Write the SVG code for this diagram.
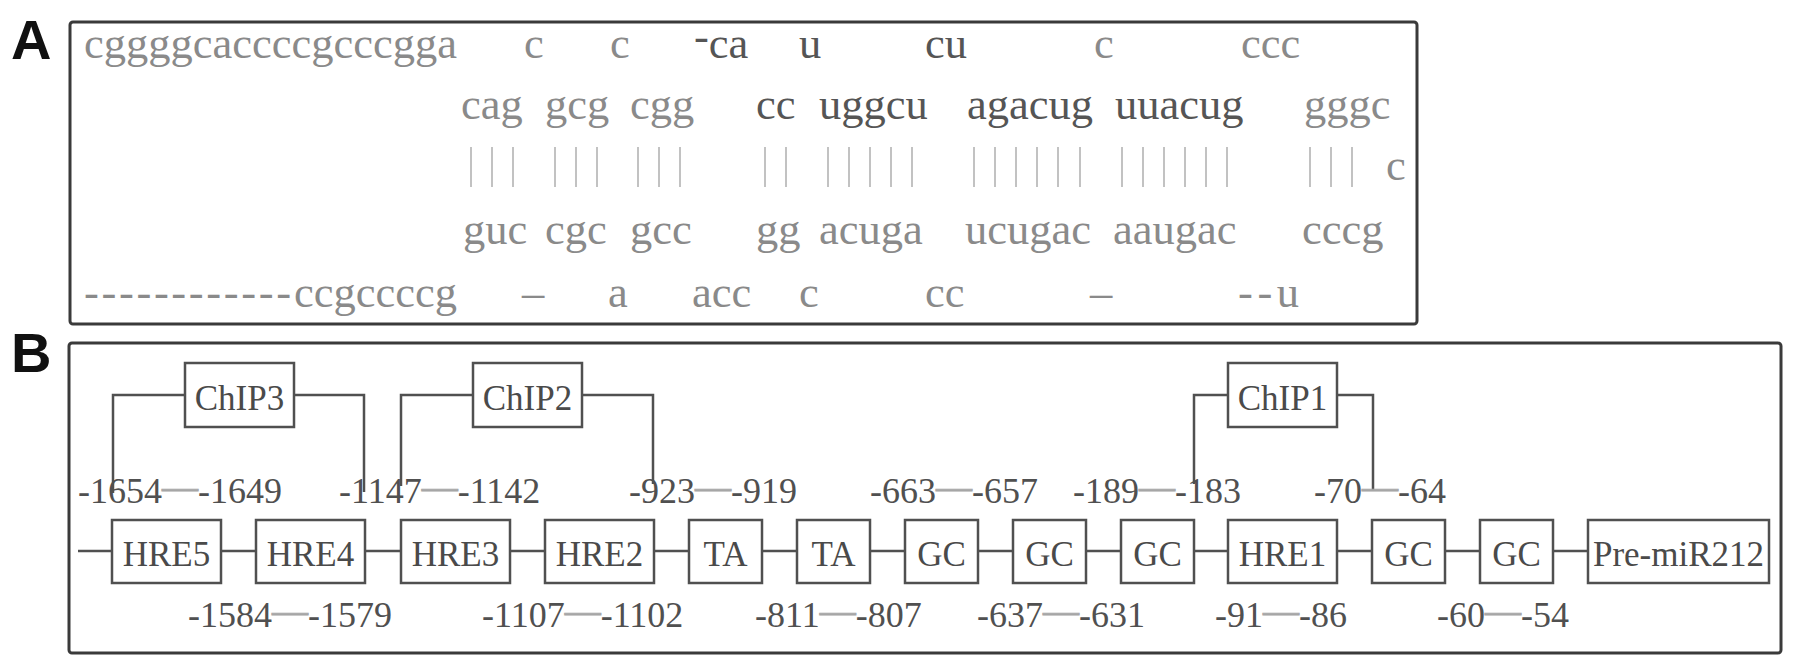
<svg xmlns="http://www.w3.org/2000/svg" width="1795" height="672" viewBox="0 0 1795 672">
<style>
.lbl{font-family:"Liberation Sans",Arial,sans-serif;font-weight:bold;font-size:56px;fill:#111}
.panel{fill:none;stroke:#3a3a3a;stroke-width:3}
.seq{font-family:"Liberation Serif","Times New Roman",serif;font-size:44.5px;fill:#8a8a8a}
.dk{fill:#555}
.bar{stroke:#c2c2c2;stroke-width:2}
.box rect{fill:#fff;stroke:#505050;stroke-width:2.5}
.box text{font-family:"Liberation Serif","Times New Roman",serif;font-size:35px;fill:#4a4a4a;text-anchor:middle}
.pos{font-family:"Liberation Serif","Times New Roman",serif;font-size:36px;fill:#505050}
.em{fill:#a6a6a6;stroke:#a6a6a6;stroke-width:0.8}
.conn{fill:none;stroke:#505050;stroke-width:2.5}
</style>
<rect width="1795" height="672" fill="#fff"/>

<!-- Panel A -->
<text class="lbl" x="11" y="59">A</text>
<rect class="panel" x="70" y="22" width="1347" height="302" rx="3"/>
<g id="seqA">
  <g id="row1">
    <text class="seq" x="84" y="58">cggggcaccccgcccgga</text>
    <text class="seq" x="524" y="58">c</text>
    <text class="seq" x="610" y="58">c</text>
    <text class="seq dk" x="694" y="58"><tspan dy="-7">-</tspan><tspan dy="7">ca</tspan></text>
    <text class="seq dk" x="799" y="58">u</text>
    <text class="seq dk" x="925" y="58">cu</text>
    <text class="seq" x="1094" y="58">c</text>
    <text class="seq" x="1241" y="58">ccc</text>
  </g>
  <g id="row2">
    <text class="seq" x="461" y="119">cag</text>
    <text class="seq" x="545" y="119">gcg</text>
    <text class="seq" x="630" y="119">cgg</text>
    <text class="seq dk" x="756" y="119">cc</text>
    <text class="seq dk" x="819" y="119">uggcu</text>
    <text class="seq dk" x="967" y="119">agacug</text>
    <text class="seq dk" x="1115" y="119">uuacug</text>
    <text class="seq" x="1304" y="119">gggc</text>
  </g>
  <g id="bars">
    <path class="bar" d="M471 147V187M492 147V187M513 147V187M555 147V187M576 147V187M597 147V187M638 147V187M659 147V187M680 147V187M765 147V187M786 147V187M828 147V187M849 147V187M870 147V187M891 147V187M912 147V187M974 147V187M995 147V187M1016 147V187M1037 147V187M1058 147V187M1080 147V187M1122 147V187M1143 147V187M1164 147V187M1185 147V187M1206 147V187M1227 147V187M1310 147V187M1331 147V187M1352 147V187"/>
    <text class="seq" x="1386" y="180">c</text>
  </g>
  <g id="row4">
    <text class="seq" x="463" y="244">guc</text>
    <text class="seq" x="545" y="244">cgc</text>
    <text class="seq" x="630" y="244">gcc</text>
    <text class="seq" x="756" y="244">gg</text>
    <text class="seq" x="819" y="244">acuga</text>
    <text class="seq" x="965" y="244">ucugac</text>
    <text class="seq" x="1113" y="244">aaugac</text>
    <text class="seq" x="1302" y="244">cccg</text>
  </g>
  <g id="row5">
    <text class="seq" x="84" y="307" textLength="207" lengthAdjust="spacing">------------</text>
    <text class="seq" x="294" y="307">ccgccccg</text>
    <text class="seq" x="522" y="307">–</text>
    <text class="seq" x="608" y="307">a</text>
    <text class="seq" x="692" y="307">acc</text>
    <text class="seq" x="799" y="307">c</text>
    <text class="seq" x="925" y="307">cc</text>
    <text class="seq" x="1090" y="307">–</text>
    <text class="seq" x="1238" y="307" textLength="61" lengthAdjust="spacing">--u</text>
  </g>
</g>

<!-- Panel B -->
<text class="lbl" x="11" y="372">B</text>
<rect class="panel" x="69" y="343" width="1712" height="310" rx="3"/>

<g id="connectors">
  <path class="conn" d="M78 551H112M221 551H256M365 551H401M510 551H545M654 551H689M762 551H797M870 551H905M978 551H1013M1086 551H1121M1194 551H1228M1337 551H1372M1445 551H1480M1553 551H1588"/>
  <path class="conn" d="M113 493V395H185M294 395H364V492"/>
  <path class="conn" d="M401 486V395H473M582 395H653V484"/>
  <path class="conn" d="M1194 484V395H1228M1337 395H1373V491"/>
</g>

<g id="chip3" class="box"><rect x="185" y="363" width="109" height="64"/><text x="239.5" y="410">ChIP3</text></g>
<g id="chip2" class="box"><rect x="473" y="363" width="109" height="64"/><text x="527.5" y="410">ChIP2</text></g>
<g id="chip1" class="box"><rect x="1228" y="363" width="109" height="64"/><text x="1282.5" y="410">ChIP1</text></g>

<g id="hre5" class="box"><rect x="112" y="520" width="109" height="63"/><text x="166.5" y="566">HRE5</text></g>
<g id="hre4" class="box"><rect x="256" y="520" width="109" height="63"/><text x="310.5" y="566">HRE4</text></g>
<g id="hre3" class="box"><rect x="401" y="520" width="109" height="63"/><text x="455.5" y="566">HRE3</text></g>
<g id="hre2" class="box"><rect x="545" y="520" width="109" height="63"/><text x="599.5" y="566">HRE2</text></g>
<g id="ta1" class="box"><rect x="689" y="520" width="73" height="63"/><text x="725.5" y="566">TA</text></g>
<g id="ta2" class="box"><rect x="797" y="520" width="73" height="63"/><text x="833.5" y="566">TA</text></g>
<g id="gc1" class="box"><rect x="905" y="520" width="73" height="63"/><text x="941.5" y="566">GC</text></g>
<g id="gc2" class="box"><rect x="1013" y="520" width="73" height="63"/><text x="1049.5" y="566">GC</text></g>
<g id="gc3" class="box"><rect x="1121" y="520" width="73" height="63"/><text x="1157.5" y="566">GC</text></g>
<g id="hre1" class="box"><rect x="1228" y="520" width="109" height="63"/><text x="1282.5" y="566">HRE1</text></g>
<g id="gc4" class="box"><rect x="1372" y="520" width="73" height="63"/><text x="1408.5" y="566">GC</text></g>
<g id="gc5" class="box"><rect x="1480" y="520" width="73" height="63"/><text x="1516.5" y="566">GC</text></g>
<g id="premir" class="box"><rect x="1588" y="520" width="181" height="63"/><text x="1678.5" y="566">Pre-miR212</text></g>

<g id="positions">
  <text class="pos" x="78" y="503">-1654<tspan class="em" dy="-4">—</tspan><tspan dy="4">-1649</tspan></text>
  <text class="pos" x="339" y="503">-1147<tspan class="em" dy="-4">—</tspan><tspan dy="4">-1142</tspan></text>
  <text class="pos" x="629" y="503">-923<tspan class="em" dy="-4">—</tspan><tspan dy="4">-919</tspan></text>
  <text class="pos" x="870" y="503">-663<tspan class="em" dy="-4">—</tspan><tspan dy="4">-657</tspan></text>
  <text class="pos" x="1073" y="503">-189<tspan class="em" dy="-4">—</tspan><tspan dy="4">-183</tspan></text>
  <text class="pos" x="1314" y="503">-70<tspan class="em" dy="-4">—</tspan><tspan dy="4">-64</tspan></text>
  <text class="pos" x="188" y="627">-1584<tspan class="em" dy="-4">—</tspan><tspan dy="4">-1579</tspan></text>
  <text class="pos" x="482" y="627">-1107<tspan class="em" dy="-4">—</tspan><tspan dy="4">-1102</tspan></text>
  <text class="pos" x="755" y="627">-811<tspan class="em" dy="-4">—</tspan><tspan dy="4">-807</tspan></text>
  <text class="pos" x="977" y="627">-637<tspan class="em" dy="-4">—</tspan><tspan dy="4">-631</tspan></text>
  <text class="pos" x="1215" y="627">-91<tspan class="em" dy="-4">—</tspan><tspan dy="4">-86</tspan></text>
  <text class="pos" x="1437" y="627">-60<tspan class="em" dy="-4">—</tspan><tspan dy="4">-54</tspan></text>
</g>
</svg>
